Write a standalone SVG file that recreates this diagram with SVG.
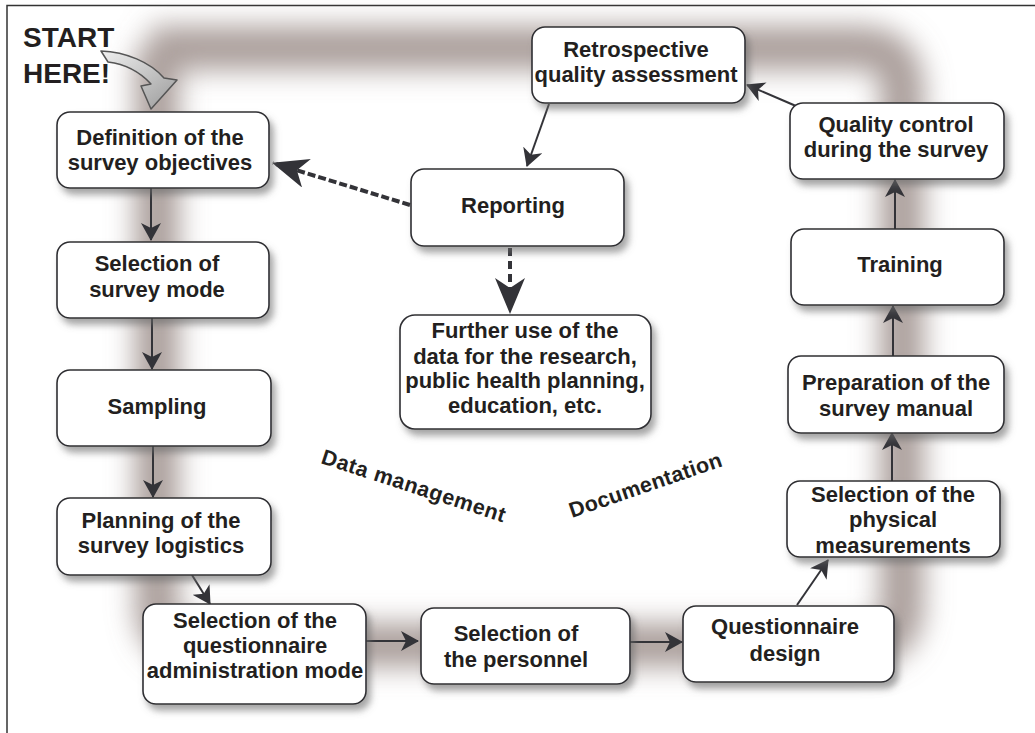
<svg xmlns="http://www.w3.org/2000/svg" width="1035" height="733" viewBox="0 0 1035 733">
<style>
.box{fill:#fff;stroke:#2f2f33;stroke-width:1.6;filter:url(#shadow)}
.t{font-family:"Liberation Sans",Arial,sans-serif;font-weight:bold;font-size:22px;fill:#231f20;text-anchor:middle}
.lbl{font-family:"Liberation Sans",Arial,sans-serif;font-weight:bold;font-size:21.5px;fill:#231f20}
.c{fill:none;stroke:#333338;stroke-width:2}
.d{fill:none;stroke:#333338;stroke-width:4}
</style>
<defs>
<filter id="shadow" x="-20%" y="-20%" width="150%" height="160%">
<feGaussianBlur in="SourceAlpha" stdDeviation="3.5"/>
<feOffset dx="4" dy="6" result="b"/>
<feFlood flood-color="#6a6a6a" flood-opacity="0.6"/>
<feComposite in2="b" operator="in"/>
<feMerge><feMergeNode/><feMergeNode in="SourceGraphic"/></feMerge>
</filter>
<filter id="blur" filterUnits="userSpaceOnUse" x="0" y="0" width="1035" height="733">
<feGaussianBlur stdDeviation="14"/>
</filter>
<linearGradient id="sg" x1="0" y1="0" x2="1" y2="1">
<stop offset="0" stop-color="#f0f0f0"/>
<stop offset="1" stop-color="#9a9a9a"/>
</linearGradient>
<marker id="ah" viewBox="0 0 18 20" refX="17" refY="10" markerWidth="18" markerHeight="20" markerUnits="userSpaceOnUse" orient="auto">
<path d="M0,0 L18,10 L0,20 L5,10 Z" fill="#333338"/>
</marker>
<marker id="big" viewBox="0 0 36 30" refX="35" refY="15" markerWidth="36" markerHeight="30" markerUnits="userSpaceOnUse" orient="auto">
<path d="M0,0 L36,15 L0,30 L10,15 Z" fill="#333338"/>
</marker>
</defs>
<rect width="1035" height="733" fill="#fff"/>
<path d="M7,733 V5.5 H1035" fill="none" stroke="#333" stroke-width="1.5"/>
<path d="M150,48 H860 Q902,48 902,90 V605 Q902,645 860,645 H197 Q157,645 157,605 V48" fill="none" stroke="#8f7f7a" stroke-opacity="0.75" stroke-width="44" filter="url(#blur)"/>

<g id="start">
<text class="lbl" x="23" y="47" style="font-size:28px;text-anchor:start">START</text>
<text class="lbl" x="23" y="83" style="font-size:28px;text-anchor:start">HERE!</text>
<path d="M101,51 C126,52 150,62 164,78 L177,80 L151,109 L141,86 L151,84 C140,72 124,64 108,62 Z" fill="url(#sg)" stroke="#555" stroke-width="1.5" stroke-linejoin="round"/>
</g>

<g id="connectors">
<line class="c" x1="151" y1="188" x2="151" y2="240" marker-end="url(#ah)"/>
<line class="c" x1="152" y1="318" x2="152" y2="369" marker-end="url(#ah)"/>
<line class="c" x1="153" y1="446" x2="153" y2="497" marker-end="url(#ah)"/>
<line class="c" x1="192" y1="575" x2="210" y2="604" marker-end="url(#ah)"/>
<line class="c" x1="362" y1="641" x2="418" y2="641" marker-end="url(#ah)"/>
<line class="c" x1="630" y1="642" x2="682" y2="642" marker-end="url(#ah)"/>
<line class="c" x1="797" y1="605" x2="828" y2="560" marker-end="url(#ah)"/>
<line class="c" x1="892" y1="481" x2="892" y2="433" marker-end="url(#ah)"/>
<line class="c" x1="893" y1="356" x2="893" y2="306" marker-end="url(#ah)"/>
<line class="c" x1="895" y1="229" x2="895" y2="180" marker-end="url(#ah)"/>
<line class="c" x1="796" y1="106" x2="747" y2="85" marker-end="url(#ah)"/>
<line class="c" x1="549" y1="104" x2="527" y2="166" marker-end="url(#ah)"/>
<line class="d" x1="410" y1="205" x2="273" y2="163" stroke-dasharray="8,3" marker-end="url(#big)"/>
<line class="d" x1="510" y1="248" x2="510" y2="313" stroke-dasharray="8,5" marker-end="url(#big)"/>
</g>

<g id="n-definition"><rect class="box" x="57" y="112" width="212" height="76" rx="13"/>
<text class="t" x="160" y="145">Definition of the</text><text class="t" x="160" y="170">survey objectives</text></g>
<g id="n-mode"><rect class="box" x="57" y="242" width="212" height="76" rx="13"/>
<text class="t" x="157" y="271">Selection of</text><text class="t" x="157" y="297">survey mode</text></g>
<g id="n-sampling"><rect class="box" x="57" y="370" width="214" height="76" rx="13"/>
<text class="t" x="157" y="414">Sampling</text></g>
<g id="n-planning"><rect class="box" x="57" y="498" width="214" height="77" rx="13"/>
<text class="t" x="161" y="528">Planning of the</text><text class="t" x="161" y="553">survey logistics</text></g>
<g id="n-qadmin"><rect class="box" x="143" y="604" width="223" height="100" rx="13"/>
<text class="t" x="255" y="628">Selection of the</text><text class="t" x="255" y="653">questionnaire</text><text class="t" x="255" y="678">administration mode</text></g>
<g id="n-personnel"><rect class="box" x="421" y="608" width="209" height="76" rx="13"/>
<text class="t" x="516" y="641">Selection of</text><text class="t" x="516" y="667">the personnel</text></g>
<g id="n-qdesign"><rect class="box" x="683" y="606" width="211" height="76" rx="13"/>
<text class="t" x="785" y="634">Questionnaire</text><text class="t" x="785" y="661">design</text></g>
<g id="n-physical"><rect class="box" x="787" y="481" width="213" height="76" rx="13"/>
<text class="t" x="893" y="502">Selection of the</text><text class="t" x="893" y="527">physical</text><text class="t" x="893" y="553">measurements</text></g>
<g id="n-manual"><rect class="box" x="788" y="356" width="216" height="77" rx="13"/>
<text class="t" x="896" y="390">Preparation of the</text><text class="t" x="896" y="416">survey manual</text></g>
<g id="n-training"><rect class="box" x="791" y="229" width="213" height="76" rx="13"/>
<text class="t" x="900" y="272">Training</text></g>
<g id="n-qc"><rect class="box" x="790" y="103" width="214" height="76" rx="13"/>
<text class="t" x="896" y="132">Quality control</text><text class="t" x="896" y="157">during the survey</text></g>
<g id="n-retro"><rect class="box" x="532" y="27" width="213" height="76" rx="13"/>
<text class="t" x="636" y="57">Retrospective</text><text class="t" x="636" y="82">quality assessment</text></g>
<g id="n-reporting"><rect class="box" x="411" y="169" width="213" height="77" rx="13"/>
<text class="t" x="513" y="213">Reporting</text></g>
<g id="n-further"><rect class="box" x="400" y="315" width="251" height="114" rx="15"/>
<text class="t" x="525" y="338">Further use of the</text><text class="t" x="525" y="364">data for the research,</text><text class="t" x="525" y="388">public health planning,</text><text class="t" x="525" y="413">education, etc.</text></g>

<g id="labels">
<text class="lbl" transform="translate(320,463) rotate(18)" letter-spacing="0.5">Data management</text>
<text class="lbl" transform="translate(572,518) rotate(-19)" letter-spacing="0.3">Documentation</text>
</g>
</svg>
